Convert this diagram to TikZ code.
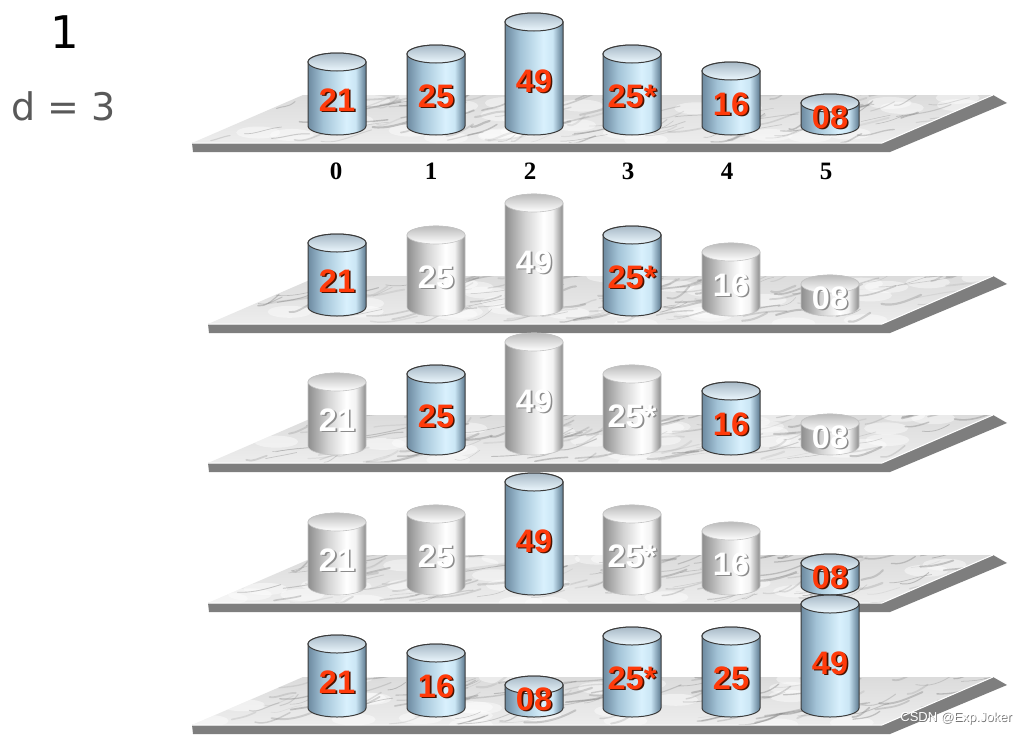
\documentclass[tikz,border=0pt]{standalone}
\usepackage{fontspec}
\setmainfont{Liberation Sans}
\newfontfamily\labfont{Liberation Sans}
\newfontfamily\idxfont{Liberation Serif}
\newfontfamily\hdfont{DejaVu Sans}

\definecolor{labred}{HTML}{FF3A0A}
\definecolor{labsh}{HTML}{4A1200}
\definecolor{wlabsh}{HTML}{8C8C8C}
\definecolor{cylline}{HTML}{3C3C3C}
\definecolor{wcylline}{HTML}{C4C4C4}
\definecolor{slabgrey}{HTML}{7E7E7E}
\definecolor{veincol}{HTML}{7E7E7E}
\definecolor{bc1}{HTML}{6D8AA0}
\definecolor{bc2}{HTML}{A3C3D7}
\definecolor{bc3}{HTML}{D9F1FD}
\definecolor{bc3b}{HTML}{CBE6F5}
\definecolor{bc4}{HTML}{5D7A90}
\definecolor{wc1}{HTML}{8E8E8E}
\definecolor{wc2}{HTML}{D2D2D2}
\definecolor{wc3}{HTML}{FFFFFF}
\definecolor{wc3b}{HTML}{F2F2F2}
\definecolor{wc4}{HTML}{8A8A8A}
\definecolor{hdgrey}{HTML}{595959}

\pgfdeclarehorizontalshading{bluecyl}{100bp}{color(0bp)=(bc1); color(25bp)=(bc1); color(38bp)=(bc2); color(58bp)=(bc3); color(66bp)=(bc3b); color(75bp)=(bc4); color(100bp)=(bc4)}
\pgfdeclarehorizontalshading{whitecyl}{100bp}{color(0bp)=(wc1); color(25bp)=(wc1); color(42bp)=(wc2); color(58bp)=(wc3); color(66bp)=(wc3b); color(75bp)=(wc4); color(100bp)=(wc4)}

\tikzset{
  bluebody/.style={shading=bluecyl, draw=cylline, line width=1pt},
  bluetop/.style={top color=bc1!60!white, bottom color=bc3!50!white, draw=cylline, line width=1pt},
  whitebody/.style={shading=whitecyl, draw=wcylline, line width=0.6pt},
  whitetop/.style={top color=wc1!60!white, bottom color=white, draw=wcylline, line width=0.6pt},
  labbase/.style={font={\labfont\bfseries\fontsize{32.5}{32.5}\selectfont}, inner sep=0pt},
  bluelab/.style={labbase, text=labred},
  bluesh/.style={labbase, text=labsh},
  whitelab/.style={labbase, text=white},
  whitesh/.style={labbase, text=wlabsh},
  idxlab/.style={font={\idxfont\bfseries\fontsize{25}{25}\selectfont}, inner sep=0pt},
  slabfill/.style={fill=slabgrey},
  marble/.style={top color=black!14, bottom color=black!7},
  wmark/.style={font={\fontsize{13}{13}\selectfont}, anchor=east, inner sep=0pt},
}

% #1 cx, #2 bottom centre y, #3 height, #4 label, #5 kind, #6 label offset, #7 name
\newcommand{\cyl}[7]{%
  \pgfmathsetmacro{\yt}{#2-#3}%
  \path[#5body] (#1-29,\yt) -- (#1-29,#2) arc[start angle=180,end angle=0,x radius=29,y radius=9] -- (#1+29,\yt) arc[start angle=0,end angle=-180,x radius=29,y radius=9] -- cycle;
  \path[#5top] (#1,\yt) ellipse[x radius=29,y radius=9];
  \node[#5sh] (#7s) at (#1+1.6,#2-#6+1.6) {#4};
  \node[#5lab] (#7) at (#1,#2-#6) {#4};
}

% #1 left tip x, #2 front y
\newcommand{\platform}[2]{%
  \pgfmathsetmacro{\bk}{#2-48}%
  \fill[slabfill] (#1+1,#2+9) -- (890,#2+9) -- (1007,\bk+8) -- (993,\bk) -- (#1,#2) -- cycle;
  \begin{scope}
    \clip (#1,#2) -- (882,#2) -- (993,\bk) -- (#1+111,\bk) -- cycle;
    \shade[marble] (#1,\bk) rectangle (993,#2);
    \foreach \i in {1,...,30}{%
      \pgfmathsetmacro{\uu}{rnd}%
      \pgfmathsetmacro{\vv}{rnd}%
      \pgfmathsetmacro{\xa}{#1+\uu*(882-#1)+\vv*111}%
      \pgfmathsetmacro{\ya}{#2-\vv*48}%
      \fill[white, opacity=0.45] (\xa,\ya) ellipse[x radius=22, y radius=6];
    }
    \foreach \i in {1,...,120}{%
      \pgfmathsetmacro{\uu}{rnd}%
      \pgfmathsetmacro{\vv}{rnd}%
      \pgfmathsetmacro{\xa}{#1+\uu*(882-#1)+\vv*111}%
      \pgfmathsetmacro{\ya}{#2-\vv*48}%
      \pgfmathsetmacro{\len}{15+40*rnd}%
      \pgfmathsetmacro{\op}{0.12+0.3*rnd}%
      \pgfmathsetmacro{\lw}{0.4+1.8*rnd}%
      \pgfmathsetmacro{\ca}{-3+6*rnd}%
      \pgfmathsetmacro{\cb}{-6+6*rnd}%
      \pgfmathsetmacro{\ce}{-12+8*rnd}%
      \draw[veincol, line width=\lw pt, opacity=\op, line cap=round] (\xa,\ya) .. controls (\xa+0.3*\len,\ya+\ca) and (\xa+0.6*\len,\ya+\cb) .. (\xa+\len,\ya+\ce);
    }
  \end{scope}
  \draw[white, line width=1pt] (#1,#2) -- (882,#2) -- (993,\bk);
}

\begin{document}
\begin{tikzpicture}[x=1pt,y=-1pt]
\pgfmathsetseed{7}
\path[use as bounding box, fill=white] (0,0) rectangle (1027,736);

\node[font={\hdfont\fontsize{45}{45}\selectfont}, anchor=base, inner sep=0pt] (one) at (65,48) {1};
\node[font={\hdfont\fontsize{38}{38}\selectfont}, text=hdgrey, anchor=base, inner sep=0pt] (dval) at (63.5,120) {d = 3};

% ---- row 1
\platform{192}{143}
\cyl{337}{126}{64}{21}{blue}{26}{a0}
\cyl{436}{126}{72}{25}{blue}{30}{a1}
\cyl{534}{126}{104}{49}{blue}{45}{a2}
\cyl{632}{126}{72}{25*}{blue}{30}{a3}
\cyl{731}{126}{55}{16}{blue}{22}{a4}
\cyl{830}{126}{23}{08}{blue}{9}{a5}
\node[idxlab] (i0) at (336,171) {0};
\node[idxlab] (i1) at (431,171) {1};
\node[idxlab] (i2) at (530,171) {2};
\node[idxlab] (i3) at (628,171) {3};
\node[idxlab] (i4) at (727,171) {4};
\node[idxlab] (i5) at (826,171) {5};

% ---- row 2
\platform{208}{324}
\cyl{337}{307}{64}{21}{blue}{26}{b0}
\cyl{436}{307}{72}{25}{white}{30}{b1}
\cyl{534}{307}{104}{49}{white}{45}{b2}
\cyl{632}{307}{72}{25*}{blue}{30}{b3}
\cyl{731}{307}{55}{16}{white}{22}{b4}
\cyl{830}{307}{23}{08}{white}{9}{b5}

% ---- row 3
\platform{208}{463}
\cyl{337}{446}{64}{21}{white}{26}{c0}
\cyl{436}{446}{72}{25}{blue}{30}{c1}
\cyl{534}{446}{104}{49}{white}{45}{c2}
\cyl{632}{446}{72}{25*}{white}{30}{c3}
\cyl{731}{446}{55}{16}{blue}{22}{c4}
\cyl{830}{446}{23}{08}{white}{9}{c5}

% ---- row 4
\platform{208}{603}
\cyl{337}{586}{64}{21}{white}{26}{d0}
\cyl{436}{586}{72}{25}{white}{30}{d1}
\cyl{534}{586}{104}{49}{blue}{45}{d2}
\cyl{632}{586}{72}{25*}{white}{30}{d3}
\cyl{731}{586}{55}{16}{white}{22}{d4}
\cyl{830}{586}{23}{08}{blue}{9}{d5}

% ---- row 5
\platform{192}{725}
\cyl{337}{708}{64}{21}{blue}{26}{e0}
\cyl{436}{708}{55}{16}{blue}{22}{e1}
\cyl{534}{708}{23}{08}{blue}{9}{e2}
\cyl{632}{708}{72}{25*}{blue}{30}{e3}
\cyl{731}{708}{72}{25}{blue}{30}{e4}
\cyl{830}{708}{104}{49}{blue}{45}{e5}

\node[wmark, text=black!55] (wms) at (1012.8,718.8) {CSDN @Exp.Joker};
\node[wmark, text=white] (wm) at (1012,718) {CSDN @Exp.Joker};
\end{tikzpicture}
\end{document}
